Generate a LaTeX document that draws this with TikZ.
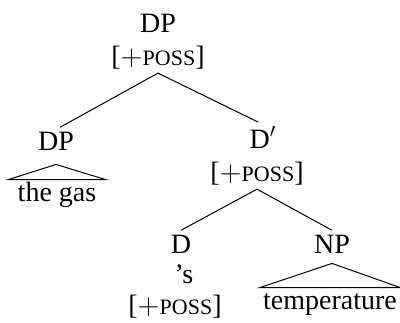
\documentclass[tikz,border=0pt]{standalone}
\usepackage{fontspec}
\setmainfont{Liberation Serif}
\usetikzlibrary{calc}
\tikzset{%
    lbl/.style={anchor=base, inner sep=2pt, font=\fontsize{14}{16}\selectfont},
    leaf/.style={lbl, text height=9pt, inner ysep=1.5pt},
    br/.style={line width=0.5pt},
}
\newcommand{\possfeat}{[$+${\fontsize{11}{13}\selectfont POSS}]}

\begin{document}
\begin{tikzpicture}[x=0.5pt,y=-0.5pt]
    \useasboundingbox (0,0) rectangle (400,322);
    % top DP
    \node[lbl] (dp) at (158,32) {DP};
    \node[lbl] (dpf) at (158,65) {\possfeat};
    % specifier
    \node[lbl] (spec) at (56,150) {DP};
    \node[leaf, inner xsep=4.5pt] (gas) at (57,201) {the gas};
    % D-bar and its daughters
    \node[lbl] (dbar) at (263,148) {D$'$};
    \node[lbl] (dbarf) at (257,181) {\possfeat};
    \node[lbl] (d) at (181,253) {D};
    \node[lbl] (poss) at (184,283) {’s};
    \node[lbl] (df) at (175,314) {\possfeat};
    \node[lbl] (np) at (332,253) {NP};
    \node[leaf, inner xsep=1.5pt] (temp) at (330,309) {temperature};
    % branches
    \draw [br] (dpf.south) -- ([xshift=2pt]spec.north);
    \draw [br] (dpf.south) -- ([xshift=-2.5pt]dbar.north);
    \draw [br] (dbarf.south) -- (d.north);
    \draw [br] (dbarf.south) -- (np.north);
    % roofs
    \draw [br] ([yshift=-5pt]spec.south) -- (gas.north west) -- (gas.north east) -- cycle;
    \draw [br] ([yshift=-3pt]np.south) -- (temp.north west) -- (temp.north east) -- cycle;
\end{tikzpicture}
\end{document}
